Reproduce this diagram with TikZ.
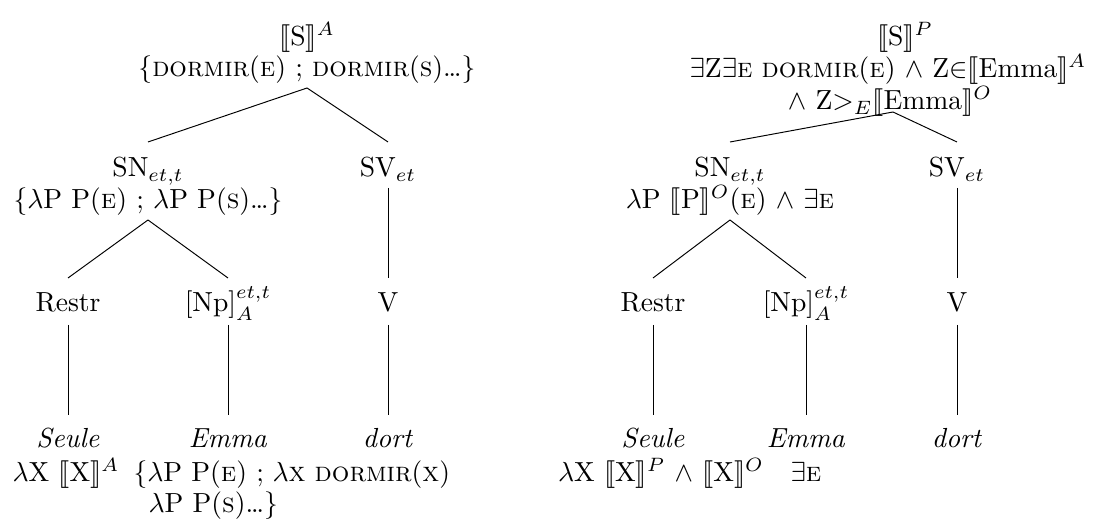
\documentclass[tikz,border=0pt]{standalone}
\usepackage{stmaryrd}
\begin{document}
\begin{tikzpicture}[x=0.3623pt,y=-0.3623pt,
  lab/.style={inner sep=0pt,anchor=base},
  edge/.style={draw,line width=0.35pt}]
\useasboundingbox (0,0) rectangle (1110,529);
% ---------- left tree ----------
\node[lab] (lS1) at (307,46) {$\llbracket\mathrm{S}\rrbracket^A$};
\node[lab] (lS2) at (307,77) {\{\textsc{dormir}(\textsc{e}) ; \textsc{dormir}(\textsc{s})\ldots\}};
\coordinate (lSb) at (307,88);
\node[lab] (lSN1) at (148,177) {SN$_{et,t}$};
\node[lab] (lSN2) at (148,209) {\{$\lambda$P P(\textsc{e}) ; $\lambda$P P(\textsc{s})\ldots\}};
\coordinate (lSNt) at (148,142);
\coordinate (lSNb) at (148,220);
\node[lab] (lSV) at (388,177) {SV$_{et}$};
\coordinate (lSVt) at (388,142);
\coordinate (lSVb) at (388,188);
\node[lab] (lR) at (68,312) {Restr};
\node[lab] (lNp) at (228,312) {[Np]$^{et,t}_A$};
\node[lab] (lV) at (388,312) {V};
\coordinate (lRt) at (68,278);
\coordinate (lNpt) at (228,278);
\coordinate (lVt) at (388,278);
\coordinate (lRb) at (68,325);
\coordinate (lNpb) at (228,325);
\coordinate (lVb) at (388,325);
\node[lab] (lSe) at (68,448) {\textit{Seule}};
\node[lab] (lEm) at (228,448) {\textit{Emma}};
\node[lab] (ldo) at (388,448) {\textit{dort}};
\coordinate (lSet) at (68,415);
\coordinate (lEmt) at (228,415);
\coordinate (ldot) at (388,415);
\node[lab] (lSe2) at (66,482) {$\lambda$X $\llbracket$X$\rrbracket^A$};
\node[lab,anchor=base west] (lEm2) at (133,482) {\{$\lambda$P P(\textsc{e}) ;};
\node[lab,anchor=base west] (lEm3) at (148,513) {$\lambda$P P(\textsc{s})\ldots\}};
\node[lab,anchor=base west] (ldo2) at (272,482) {$\lambda$\textsc{x} \textsc{dormir}(\textsc{x})};
\draw[edge] (lSb) -- (lSNt);
\draw[edge] (lSb) -- (lSVt);
\draw[edge] (lSNb) -- (lRt);
\draw[edge] (lSNb) -- (lNpt);
\draw[edge] (lSVb) -- (lVt);
\draw[edge] (lRb) -- (lSet);
\draw[edge] (lNpb) -- (lEmt);
\draw[edge] (lVb) -- (ldot);
% ---------- right tree ----------
\node[lab] (rS1) at (905,46) {$\llbracket\mathrm{S}\rrbracket^P$};
\node[lab] (rS2) at (888,78) {$\exists$Z$\exists$\textsc{e} \textsc{dormir}(\textsc{e}) $\wedge$ Z$\in$$\llbracket$Emma$\rrbracket^A$};
\node[lab] (rS3) at (890,110) {$\wedge$ Z$>_E$$\llbracket$Emma$\rrbracket^O$};
\coordinate (rSb) at (893,112);
\node[lab] (rSN1) at (730,177) {SN$_{et,t}$};
\node[lab] (rSN2) at (730,209) {$\lambda$P $\llbracket$P$\rrbracket^O$(\textsc{e}) $\wedge$ $\exists$\textsc{e}};
\coordinate (rSNt) at (730,142);
\coordinate (rSNb) at (730,220);
\node[lab] (rSV) at (957,177) {SV$_{et}$};
\coordinate (rSVt) at (957,142);
\coordinate (rSVb) at (957,188);
\node[lab] (rR) at (653,312) {Restr};
\node[lab] (rNp) at (806,312) {[Np]$^{et,t}_A$};
\node[lab] (rV) at (957,312) {V};
\coordinate (rRt) at (653,278);
\coordinate (rNpt) at (806,278);
\coordinate (rVt) at (957,278);
\coordinate (rRb) at (653,325);
\coordinate (rNpb) at (806,325);
\coordinate (rVb) at (957,325);
\node[lab] (rSe) at (653,448) {\textit{Seule}};
\node[lab] (rEm) at (806,448) {\textit{Emma}};
\node[lab] (rdo) at (957,448) {\textit{dort}};
\coordinate (rSet) at (653,415);
\coordinate (rEmt) at (806,415);
\coordinate (rdot) at (957,415);
\node[lab] (rSe2) at (661,482) {$\lambda$X $\llbracket$X$\rrbracket^P$ $\wedge$ $\llbracket$X$\rrbracket^O$};
\node[lab] (rEm2) at (806,482) {$\exists$\textsc{e}};
\draw[edge] (rSb) -- (rSNt);
\draw[edge] (rSb) -- (rSVt);
\draw[edge] (rSNb) -- (rRt);
\draw[edge] (rSNb) -- (rNpt);
\draw[edge] (rSVb) -- (rVt);
\draw[edge] (rRb) -- (rSet);
\draw[edge] (rNpb) -- (rEmt);
\draw[edge] (rVb) -- (rdot);
\end{tikzpicture}
\end{document}
